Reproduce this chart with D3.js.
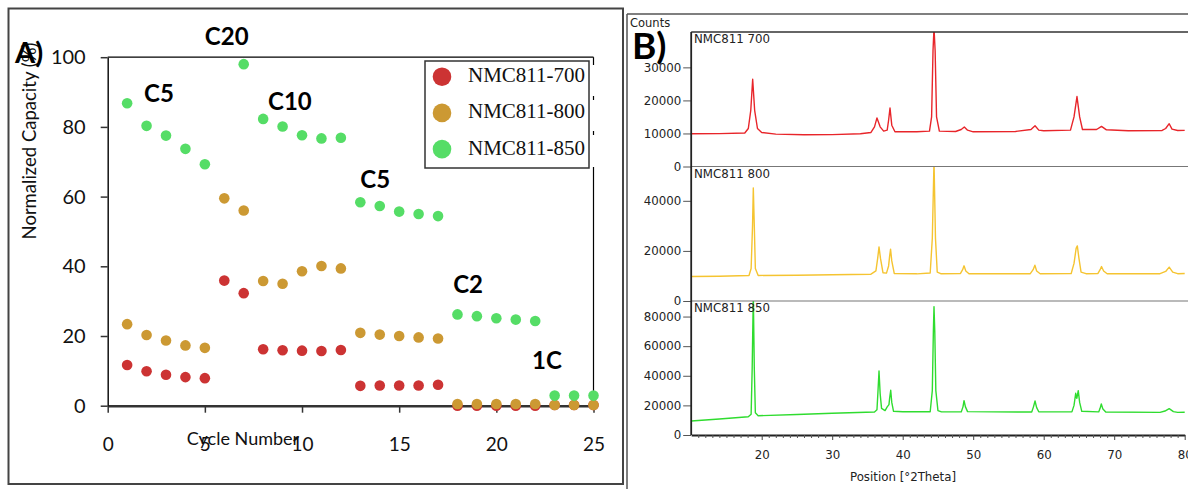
<!DOCTYPE html>
<html><head><meta charset="utf-8">
<script src="https://cdn.jsdelivr.net/npm/d3@7"></script>
<style>html,body{margin:0;padding:0;background:#fff;}svg{display:block}</style>
</head><body>
<svg id="c" width="1188" height="489"></svg>
<script>
// ---------- Panel A data ----------
const cycles = [1,2,3,4,5,6,7,8,9,10,11,12,13,14,15,16,17,18,19,20,21,22,23,24,25];
const nmc700 = [11.7,9.9,8.9,8.2,7.9,35.9,32.3,16.2,15.9,15.8,15.7,16.0,5.7,5.8,5.8,5.8,6.0,0,0,0,0,0,0.2,0.2,0.2];
const nmc800 = [23.4,20.3,18.7,17.3,16.6,59.5,56.0,35.8,35.0,38.6,40.1,39.4,20.9,20.4,20.0,19.6,19.3,0.5,0.5,0.5,0.5,0.5,0.2,0.2,0.2];
const nmc850 = [86.8,80.3,77.5,73.7,69.3,null,98.0,82.3,80.1,77.6,76.7,76.9,58.4,57.3,55.7,55.0,54.4,26.2,25.7,25.1,24.7,24.3,2.9,2.9,2.9];
const seriesNames = ["NMC811-700","NMC811-800","NMC811-850"];
const seriesColors = ["#cc3333","#cc9933","#55dd66"];
const xTicksA = [0,5,10,15,20,25];
const yTicksA = [0,20,40,60,80,100];
const rateLabels = ["C20","C5","C10","C5","C2","1C"];
const rateCycle  = [5.0,1.87,8.25,13.0,17.78,21.84];
const rateValue  = [103.5,87.1,84.9,62.5,32.3,10.5];

// ---------- Panel B data (2θ, counts) ----------
const xrd700 = [[10,9900],[14,9950],[17.6,10150],[18.1,11500],[18.45,17000],[18.72,26400],[19.0,17000],[19.4,11500],[20,10300],[22,9800],[26,9600],[30,9650],[34,9900],[35.5,10300],[36.0,12000],[36.35,14700],[36.8,12000],[37.3,10700],[37.8,11000],[38.0,14000],[38.2,17700],[38.45,12500],[38.9,10500],[42,10500],[43.8,10700],[44.1,15000],[44.3,35000],[44.44,42000],[44.6,35000],[44.8,15000],[45.2,10700],[47.5,10600],[48.3,11200],[48.74,11950],[49.2,11000],[50,10500],[56,10600],[58.2,11200],[58.77,12350],[59.3,11000],[60,10800],[63.8,11000],[64.3,15000],[64.72,21170],[65.1,15000],[65.5,11200],[67.5,11200],[68.2,12140],[68.9,11100],[72,10800],[76.8,10900],[77.3,11500],[77.8,12950],[78.2,11300],[79,10900],[80,10930]];
const xrd800 = [[10,9780],[14,9900],[18.2,10200],[18.5,13000],[18.7,30000],[18.81,45170],[18.95,30000],[19.1,13000],[19.5,10200],[25,10300],[30,10460],[35.5,10700],[36.2,12000],[36.45,17000],[36.64,21590],[36.85,17000],[37.2,11300],[37.7,11130],[38.0,14000],[38.15,18000],[38.28,20680],[38.45,16000],[38.8,11000],[42,10850],[43.9,11200],[44.2,25000],[44.44,56000],[44.65,25000],[44.9,11500],[45.4,10900],[48.2,11000],[48.5,12500],[48.7,14040],[48.95,12000],[49.4,10900],[58.1,10900],[58.5,12500],[58.75,14310],[59.0,12000],[59.5,10900],[63.9,11000],[64.3,15000],[64.6,21000],[64.77,21990],[65.0,17000],[65.3,11500],[66,10900],[67.7,11000],[68.0,12500],[68.2,13760],[68.5,12000],[69,10900],[76.5,10900],[77.3,11800],[77.8,13520],[78.3,11500],[79,10900],[80,10970]];
const xrd850 = [[10,9460],[14,10800],[18.1,12360],[18.5,14000],[18.65,45000],[18.81,95000],[18.95,45000],[19.1,15000],[19.5,13040],[25,13800],[30,14660],[36,15540],[36.35,17000],[36.5,30000],[36.64,43240],[36.8,28000],[37.0,18000],[37.5,16500],[37.8,19000],[38.05,20500],[38.15,25000],[38.3,30200],[38.45,22000],[38.7,16000],[40,15700],[43.9,15700],[44.2,30000],[44.35,70000],[44.44,86700],[44.55,70000],[44.7,30000],[45.0,16500],[45.5,15600],[48.3,15600],[48.55,19000],[48.7,23180],[48.9,19000],[49.2,15800],[58.3,15500],[58.55,19000],[58.77,22970],[59.0,18500],[59.3,15700],[64.0,15600],[64.3,20000],[64.54,28170],[64.7,24800],[64.9,29930],[65.1,22000],[65.4,16000],[67.8,15600],[68.0,18000],[68.17,20950],[68.4,17500],[68.8,15500],[76.5,15300],[77.2,16200],[77.8,17770],[78.4,15800],[79,15300],[80,15340]];
const xrdNames = ["NMC811 700","NMC811 800","NMC811 850"];
const xrdColors = ["#e8252a","#f5c431","#2fdc2f"];
const xrdYTicks = [[0,10000,20000,30000],[0,20000,40000],[0,20000,40000,60000,80000]];
const xrdYMax = [40700,53700,90500];
const xTicksB = [20,30,40,50,60,70,80];

const svg = d3.select("#c");

// ================= PANEL A =================
svg.append("rect").attr("x",8.5).attr("y",8.5).attr("width",614.5).attr("height",475.5)
  .attr("fill","none").attr("stroke","#444").attr("stroke-width",2);

const xA = d3.scaleLinear().domain([0,25]).range([107.7,593.5]);
const yA = d3.scaleLinear().domain([0,100]).range([405.7,57.2]);

// frame top/right (right side mostly hidden behind legend)
svg.append("line").attr("x1",xA(0)).attr("x2",xA(25)).attr("y1",yA(100)).attr("y2",yA(100)).attr("stroke","#000").attr("stroke-width",1.2);
svg.append("line").attr("x1",xA(25)).attr("x2",xA(25)).attr("y1",yA(100)).attr("y2",65).attr("stroke","#000").attr("stroke-width",1.2);
svg.append("line").attr("x1",xA(25)).attr("x2",xA(25)).attr("y1",96).attr("y2",100).attr("stroke","#000").attr("stroke-width",1.2);
svg.append("line").attr("x1",xA(25)).attr("x2",xA(25)).attr("y1",131).attr("y2",135).attr("stroke","#000").attr("stroke-width",1.2);
svg.append("line").attr("x1",xA(25)).attr("x2",xA(25)).attr("y1",167).attr("y2",yA(0)).attr("stroke","#000").attr("stroke-width",1.2);

const gxA = svg.append("g").attr("transform",`translate(0,${yA(0)})`)
  .call(d3.axisBottom(xA).tickValues(xTicksA).tickSize(7).tickSizeOuter(0).tickPadding(25));
gxA.select(".domain").attr("stroke","#333").attr("stroke-width",2.6);
gxA.selectAll(".tick line").attr("stroke","#333").attr("stroke-width",1.5);
gxA.selectAll(".tick text").attr("font-family","Lato, 'Open Sans', sans-serif").attr("font-size",19).attr("fill","#111");

const gyA = svg.append("g").attr("transform",`translate(${xA(0)},0)`)
  .call(d3.axisLeft(yA).tickValues(yTicksA).tickSize(7).tickSizeOuter(0).tickPadding(15));
gyA.select(".domain").attr("stroke","#111").attr("stroke-width",1.5);
gyA.selectAll(".tick line").attr("stroke","#333").attr("stroke-width",1.5);
gyA.selectAll(".tick text").attr("font-family","Lato, 'Open Sans', sans-serif").attr("font-size",20).attr("fill","#111");

// axis titles
svg.append("text").attr("transform","translate(36,141) rotate(-90)").attr("text-anchor","middle")
  .attr("font-family","Lato, 'Open Sans', sans-serif").attr("font-size",18.5).attr("fill","#111")
  .text("Normalized Capacity (%)");
svg.append("text").attr("x",243).attr("y",445).attr("text-anchor","middle")
  .attr("font-family","Lato, 'Open Sans', sans-serif").attr("font-size",18).attr("fill","#111")
  .text("Cycle Number");
svg.append("text").attr("x",15).attr("y",63)
  .attr("font-family","Lato, 'Open Sans', sans-serif").attr("font-weight","bold").attr("font-size",29).attr("fill","#000")
  .text("A)");

// points
const seriesA = [nmc700, nmc800, nmc850];
seriesA.forEach((vals,i)=>{
  svg.append("g").selectAll("circle")
    .data(cycles.map((c,j)=>({c, v: vals[j]})).filter(d=>d.v!==null))
    .join("circle")
    .attr("cx",d=>xA(d.c)).attr("cy",d=>yA(d.v)).attr("r",5.3)
    .attr("fill",seriesColors[i]);
});

// rate labels
svg.append("g").selectAll("text").data(rateLabels).join("text")
  .attr("x",(d,i)=>xA(rateCycle[i])).attr("y",(d,i)=>yA(rateValue[i]))
  .attr("font-family","Lato, 'Open Sans', sans-serif").attr("font-weight","bold").attr("font-size",24).attr("fill","#000")
  .text(d=>d);

// legend
const lg = svg.append("g");
lg.append("rect").attr("x",425).attr("y",61).attr("width",164).attr("height",107)
  .attr("fill","#fff").attr("stroke","#333").attr("stroke-width",1.5);
seriesNames.forEach((n,i)=>{
  const cy = 76.7 + i*36.2;
  lg.append("circle").attr("cx",442).attr("cy",cy).attr("r",9.3).attr("fill",seriesColors[i]);
  lg.append("text").attr("x",468).attr("y",cy+5.5)
    .attr("font-family","'Liberation Serif', 'Times New Roman', serif").attr("font-size",21).attr("fill","#111").text(n);
});

// ================= PANEL B =================
const font2 = "'DejaVu Sans', sans-serif";
svg.append("line").attr("x1",627).attr("x2",1188).attr("y1",14).attr("y2",14).attr("stroke","#555").attr("stroke-width",1.5);
svg.append("line").attr("x1",627).attr("x2",627).attr("y1",14).attr("y2",489).attr("stroke","#555").attr("stroke-width",1.5);
svg.append("text").attr("x",630).attr("y",27).attr("font-family",font2).attr("font-size",11.5).attr("fill","#222").text("Counts");

const xB = d3.scaleLinear().domain([10,80]).range([691.2,1184.7]);
const panelTop = [32,166.5,301];
const panelBot = [166.5,301,435];
const xrdData = [xrd700, xrd800, xrd850];
const defs = svg.append("defs");

xrdData.forEach((data,i)=>{
  const y = d3.scaleLinear().domain([0,xrdYMax[i]]).range([panelBot[i],panelTop[i]]);
  defs.append("clipPath").attr("id","clip"+i).append("rect")
    .attr("x",xB(10)).attr("y",panelTop[i]).attr("width",xB(80)-xB(10)+10).attr("height",panelBot[i]-panelTop[i]);
  const line = d3.line().x(d=>xB(d[0])).y(d=>y(d[1]));
  svg.append("path").datum(data).attr("d",line).attr("fill","none")
    .attr("stroke",xrdColors[i]).attr("stroke-width",1.4).attr("stroke-linejoin","round")
    .attr("clip-path",`url(#clip${i})`);
  const ga = svg.append("g").attr("transform",`translate(${xB(10)},0)`)
    .call(d3.axisLeft(y).tickValues(xrdYTicks[i]).tickSize(8).tickSizeOuter(0).tickPadding(2).tickFormat(d3.format("d")));
  ga.select(".domain").remove();
  ga.selectAll(".tick line").attr("stroke","#555");
  ga.selectAll(".tick text").attr("font-family",font2).attr("font-size",11.8).attr("fill","#222");
  svg.append("text").attr("x",694).attr("y",panelTop[i]+11).attr("font-family",font2).attr("font-size",11.8).attr("fill","#222").text(xrdNames[i]);
  svg.append("line").attr("x1",xB(10)).attr("x2",1188).attr("y1",panelTop[i]).attr("y2",panelTop[i])
    .attr("stroke", i===0 ? "#333" : "#777").attr("stroke-width", i===0 ? 1.6 : 1.2);
});

svg.append("line").attr("x1",xB(10)).attr("x2",xB(10)).attr("y1",32).attr("y2",435).attr("stroke","#222").attr("stroke-width",1.8);

const gxB = svg.append("g").attr("transform","translate(0,435)")
  .call(d3.axisBottom(xB).tickValues(xTicksB).tickSize(5).tickSizeOuter(0).tickPadding(11));
gxB.select(".domain").attr("stroke","#222").attr("stroke-width",1.8);
gxB.selectAll(".tick line").attr("stroke","#444");
gxB.selectAll(".tick text").attr("font-family",font2).attr("font-size",11.8).attr("fill","#222");
const gxBm = svg.append("g").attr("transform","translate(0,435)")
  .call(d3.axisBottom(xB).tickValues(d3.range(11,80).filter(v=>v%10!==0)).tickSize(3).tickFormat(""));
gxBm.select(".domain").remove();
gxBm.selectAll(".tick line").attr("stroke","#555");

svg.append("text").attr("x",903).attr("y",481).attr("text-anchor","middle").attr("font-family",font2).attr("font-size",11.8).attr("fill","#222").text("Position [°2Theta]");

svg.append("text").attr("x",632).attr("y",59)
  .attr("font-family","Lato, 'Open Sans', sans-serif").attr("font-weight","bold").attr("font-size",37).attr("fill","#000")
  .text("B)");
</script>
</body></html>
